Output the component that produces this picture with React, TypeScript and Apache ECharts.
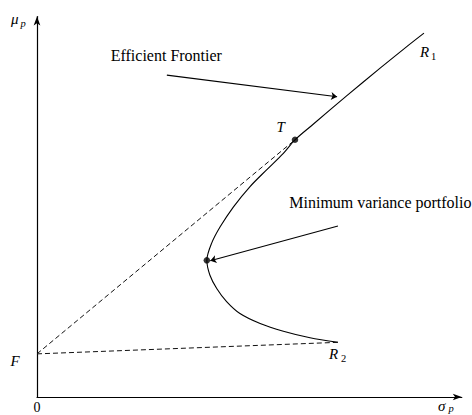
import React, { useEffect, useRef } from "react";
import * as echarts from "echarts";

// Portfolio frontier sampled as (sigma, mu) pairs, running from R2 through
// the minimum-variance point and T up to R1.
const frontierSigma = [7.0, 6.35, 5.73, 5.19, 4.72, 4.41, 4.18, 4.02, 3.95, 4.06, 4.26, 4.57, 4.95, 5.34, 5.73, 6.0, 6.43, 7.2, 7.98, 8.6, 9.0];
const frontierMu = [1.42, 1.54, 1.71, 1.91, 2.17, 2.48, 2.82, 3.17, 3.55, 3.99, 4.42, 4.94, 5.46, 5.9, 6.33, 6.68, 7.09, 7.82, 8.54, 9.1, 9.45];

// Key points: risk-free asset F, tangency portfolio T, minimum-variance portfolio, R2 end
const riskFree = [0, 1.12];
const tangency = [6.0, 6.68];
const minVariance = [3.95, 3.55];
const lowerEnd = [7.0, 1.42];

// Annotation arrows (tail, head)
const frontierArrow = [[3.02, 8.36], [6.98, 7.8]];
const minVarArrow = [[7.0, 4.44], [4.03, 3.54]];

const AXIS_MAX = 9.88;
const SERIF = "'Liberation Serif', 'Times New Roman', 'DejaVu Serif', serif";

function txt(text: string, x: number, y: number, size: number, italic: boolean, align = "left") {
  return {
    type: "text",
    x,
    y,
    silent: true,
    style: {
      text,
      fill: "#000",
      fontFamily: SERIF,
      fontSize: size,
      fontStyle: italic ? "italic" : "normal",
      align,
      verticalAlign: "middle",
    },
  };
}

export default function App() {
  const ref = useRef<HTMLDivElement>(null);

  useEffect(() => {
    if (!ref.current) return;
    const chart = echarts.init(ref.current, null, { renderer: "svg" });
    const frontier = frontierSigma.map((s, i) => [s, frontierMu[i]]);

    chart.setOption({
      animation: false,
      backgroundColor: "#fff",
      grid: { left: 37, top: 16.6, width: 424.8, height: 380.4 },
      xAxis: {
        type: "value",
        min: 0,
        max: AXIS_MAX,
        axisLine: { show: true, onZero: false, symbol: ["none", "arrow"], symbolSize: [5, 9], lineStyle: { color: "#000", width: 1.2 } },
        axisTick: { show: false },
        axisLabel: { show: false },
        splitLine: { show: false },
      },
      yAxis: {
        type: "value",
        min: 0,
        max: AXIS_MAX,
        axisLine: { show: true, onZero: false, symbol: ["none", "arrow"], symbolSize: [5, 9], lineStyle: { color: "#000", width: 1.2 } },
        axisTick: { show: false },
        axisLabel: { show: false },
        splitLine: { show: false },
      },
      series: [
        {
          type: "line",
          data: [riskFree, tangency],
          showSymbol: false,
          lineStyle: { color: "#111", width: 1, type: [5, 3] },
        },
        {
          type: "line",
          data: [riskFree, lowerEnd],
          showSymbol: false,
          lineStyle: { color: "#111", width: 1, type: [5, 3] },
        },
        {
          type: "line",
          data: frontier,
          smooth: 0.3,
          showSymbol: false,
          lineStyle: { color: "#000", width: 1.1 },
        },
        {
          type: "lines",
          coordinateSystem: "cartesian2d",
          symbol: ["none", "arrow"],
          symbolSize: 6,
          lineStyle: { color: "#000", width: 1.1, opacity: 1 },
          data: [{ coords: frontierArrow }, { coords: minVarArrow }],
        },
        {
          type: "scatter",
          data: [tangency, minVariance],
          symbolSize: 6.5,
          itemStyle: { color: "#000" },
        },
      ],
      graphic: [
        txt("Efficient Frontier", 110.7, 55, 16, false),
        txt("Minimum variance portfolio", 289.3, 202.5, 16, false),
        txt("T", 276.5, 127, 15, true),
        txt("R", 420, 52, 15, true),
        txt("1", 431, 56.5, 10.5, false),
        txt("R", 329, 354, 15, true),
        txt("2", 341, 358, 10.5, false),
        txt("F", 10.5, 361, 15, true),
        txt("0", 37, 407, 14, false, "center"),
        txt("\u03c3", 438, 405.5, 15, true),
        txt("p", 448.5, 408.5, 10.5, true),
        txt("\u03bc", 11, 18.5, 15, true),
        txt("p", 20.5, 23, 10.5, true),
      ],
    });

    return () => chart.dispose();
  }, []);

  return (
    <div
      ref={ref}
      style={{ position: "fixed", left: 0, top: 0, width: 472, height: 415, background: "#fff" }}
    />
  );
}
